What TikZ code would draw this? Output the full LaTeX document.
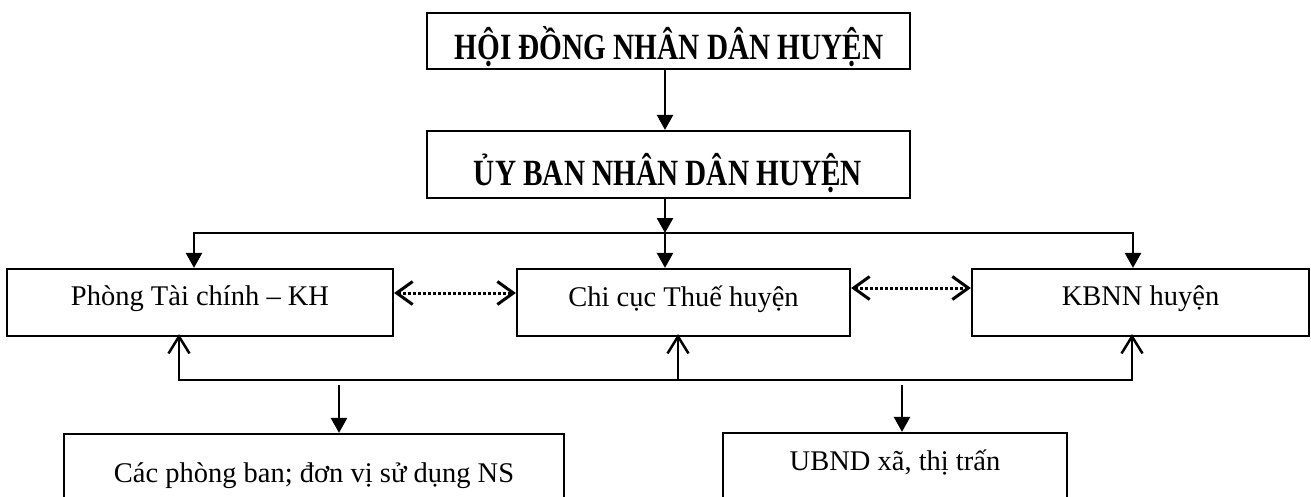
\documentclass[tikz,border=0pt]{standalone}
\usepackage{fontspec}
\usepackage{graphicx}
\setmainfont{Liberation Serif}
\usetikzlibrary{arrows.meta}
\begin{document}
\begin{tikzpicture}[x=1pt,y=-1pt,
  box/.style={draw, line width=2.2pt, inner sep=0pt},
  head/.style={font=\fontsize{37}{40}\selectfont\bfseries, anchor=base, inner sep=0pt},
  body/.style={font=\fontsize{28.5}{30}\selectfont, anchor=base, inner sep=0pt},
  solidarrow/.style={line width=2.5pt, -{Triangle[length=15pt,width=16pt]}},
  uparrow/.style={line width=2.5pt, -{Straight Barb[length=17pt,width=21pt]}},
  dotarrow/.style={line width=3pt, dash pattern=on 3pt off 2pt,
     {Straight Barb[length=16pt,width=23pt]}-{Straight Barb[length=16pt,width=23pt]}},
  plain/.style={line width=2.5pt}]
\useasboundingbox (0,0) rectangle (1311,496);
\clip (0,0) rectangle (1311,496);

% boxes
\node[box, minimum width=483pt, minimum height=56pt] (hdnd) at (668.5,41) {};
\node[box, minimum width=483pt, minimum height=67pt] (ubnd) at (668.5,164.5) {};
\node[box, minimum width=386pt, minimum height=67pt] (ptc) at (200,302.5) {};
\node[box, minimum width=333pt, minimum height=67pt] (ccthue) at (683.5,302.5) {};
\node[box, minimum width=337pt, minimum height=67pt] (kbnn) at (1140.5,302.5) {};
\node[box, minimum width=500pt, minimum height=106pt] (cpb) at (314,487) {};
\node[box, minimum width=344pt, minimum height=107pt] (ubndxa) at (895,486.5) {};

% texts
\node[head] (hdndT) at (669,59) {\scalebox{0.79}[1]{HỘI ĐỒNG NHÂN DÂN HUYỆN}};
\node[head] (ubndT) at (668,185) {\scalebox{0.79}[1]{ỦY BAN NHÂN DÂN HUYỆN}};
\node[body] (ptcT) at (200,305) {Phòng Tài chính – KH};
\node[body] (ccthueT) at (683.5,306) {Chi cục Thuế huyện};
\node[body] (kbnnT) at (1140.5,305) {KBNN huyện};
\node[body] (cpbT) at (314,482) {Các phòng ban; đơn vị sử dụng NS};
\node[body] (ubndxaT) at (895,470) {UBND xã, thị trấn};

% top connectors
\coordinate (h1) at (665,0);
\draw[solidarrow] (hdnd.south -| h1) -- (ubnd.north -| h1);
\coordinate (split) at (665,233);
\coordinate (tl) at (194,233);
\coordinate (tr) at (1133,233);
\draw[solidarrow] (ubnd.south -| split) -- (split);
\draw[solidarrow] (split) -| (tl |- ptc.north);
\draw[solidarrow] (split) -| (tr |- kbnn.north);
\draw[solidarrow] (split) -- (split |- ccthue.north);

% dotted links
\coordinate (d1) at (0,293);
\coordinate (d2) at (0,288);
\draw[dotarrow] (ptc.east |- d1) -- (ccthue.west |- d1);
\draw[dotarrow] (ccthue.east |- d2) -- (kbnn.west |- d2);

% bottom connectors
\coordinate (bl) at (179,380);
\coordinate (bm) at (678,380);
\coordinate (br) at (1132,380);
\draw[uparrow, shorten >=-3pt] (bm) -| (bl |- ptc.south);
\draw[uparrow, shorten >=-3pt] (bm) -| (br |- kbnn.south);
\draw[uparrow, shorten >=-3pt] (bm) -- (bm |- ccthue.south);
\coordinate (dl) at (339,385);
\coordinate (dr) at (902,385);
\draw[solidarrow] (dl) -- (dl |- cpb.north);
\draw[solidarrow] (dr) -- (dr |- ubndxa.north);
\end{tikzpicture}
\end{document}
